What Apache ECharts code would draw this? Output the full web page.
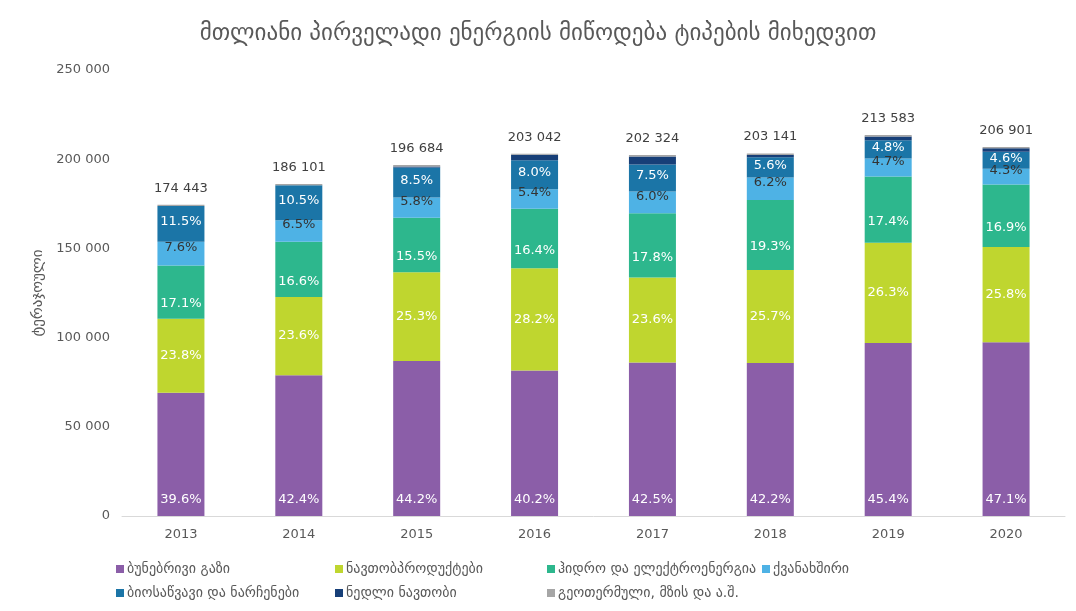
<!DOCTYPE html>
<html>
<head>
<meta charset="utf-8">
<script src="https://cdn.jsdelivr.net/npm/echarts@6/dist/echarts.min.js"></script>
<style>
  html, body { margin: 0; padding: 0; background: #fff; }
  #chart { width: 1076px; height: 611px; }
</style>
</head>
<body>
<div id="chart"></div>
<script>
// წლები და ჯამური მიწოდება (ტერაჯოული)
var years = ['2013', '2014', '2015', '2016', '2017', '2018', '2019', '2020'];
var totals = [174443, 186101, 196684, 203042, 202324, 203141, 213583, 206901];

// წილები, %
var gasPct     = [39.6, 42.4, 44.2, 40.2, 42.5, 42.2, 45.4, 47.1];
var oilProdPct = [23.8, 23.6, 25.3, 28.2, 23.6, 25.7, 26.3, 25.8];
var hydroPct   = [17.1, 16.6, 15.5, 16.4, 17.8, 19.3, 17.4, 16.9];
var coalPct    = [7.6, 6.5, 5.8, 5.4, 6.0, 6.2, 4.7, 4.3];
var bioPct     = [11.5, 10.5, 8.5, 8.0, 7.5, 5.6, 4.8, 4.6];
var crudePct   = [0, 0, 0.3, 1.5, 2.2, 0.6, 1.0, 0.9];
var geoPct     = [0.4, 0.4, 0.4, 0.3, 0.4, 0.4, 0.4, 0.4];

var names = ['ბუნებრივი გაზი', 'ნავთობპროდუქტები', 'ჰიდრო და ელექტროენერგია', 'ქვანახშირი',
             'ბიოსაწვავი და ნარჩენები', 'ნედლი ნავთობი', 'გეოთერმული, მზის და ა.შ.'];
var colors = ['#8b5ea8', '#bfd62f', '#2db78d', '#4eb2e5', '#1b75a7', '#173f78', '#a6a6a6'];

var pcts = [gasPct, oilProdPct, hydroPct, coalPct, bioPct, crudePct, geoPct];

function spaced(n) {
    return String(Math.round(n)).replace(/\B(?=(\d{3})+(?!\d))/g, ' ');
}

var fontFam = '"DejaVu Sans", "Noto Sans", sans-serif';
var labelFont = '"DejaVu Sans", sans-serif';

// label placement per series
var labelCfg = [
    {show: true, position: 'insideBottom', distance: 10, color: '#fff'},
    {show: true, position: 'inside', color: '#fff'},
    {show: true, position: 'inside', offset: [0, 12], color: '#fff'},
    {show: true, position: 'inside', offset: [0, -6], color: '#333'},
    {show: true, position: 'inside', offset: [0, -2], color: '#fff'},
    {show: false},
    {show: false}
];

var series = names.map(function (nm, i) {
    var lbl = labelCfg[i];
    lbl.fontSize = 13;
    lbl.fontFamily = labelFont;
    lbl.formatter = function (p) { return pcts[i][p.dataIndex].toFixed(1) + '%'; };
    return {
        name: nm,
        type: 'bar',
        stack: 'total',
        barWidth: 47,
        itemStyle: {color: colors[i]},
        label: lbl,
        data: totals.map(function (t, k) { return t * pcts[i][k] / 100; })
    };
});

// totals above bars
series.push({
    name: 'total',
    type: 'bar',
    stack: 'total',
    barWidth: 47,
    data: totals.map(function () { return 0; }),
    itemStyle: {color: 'transparent'},
    label: {
        show: true,
        position: 'top',
        distance: 10,
        fontSize: 13,
        fontFamily: labelFont,
        color: '#404040',
        formatter: function (p) { return spaced(totals[p.dataIndex]); }
    },
    tooltip: {show: false}
});

var legendPos = [
    [116, 562], [335, 562], [547, 562], [762, 562],
    [116, 586], [335, 586], [547, 586]
];
var legends = names.map(function (nm, i) {
    return {
        data: [nm],
        left: legendPos[i][0],
        top: legendPos[i][1],
        icon: 'rect',
        itemWidth: 8,
        itemHeight: 8,
        itemGap: 4,
        padding: 0,
        textStyle: {fontSize: 14, color: '#595959', fontFamily: fontFam, padding: [0, 0, 0, -2]}
    };
});

var chart = echarts.init(document.getElementById('chart'));
chart.setOption({
    animation: false,
    backgroundColor: '#fff',
    title: {
        text: 'მთლიანი პირველადი ენერგიის მიწოდება ტიპების მიხედვით',
        left: 'center',
        top: 18,
        textStyle: {fontSize: 23, fontWeight: 'normal', color: '#595959', fontFamily: fontFam}
    },
    legend: legends,
    grid: {left: 122, right: 11, top: 70, bottom: 95},
    xAxis: {
        type: 'category',
        data: years,
        axisLine: {lineStyle: {color: '#d9d9d9'}},
        axisTick: {show: false},
        axisLabel: {color: '#595959', fontSize: 13, fontFamily: labelFont, margin: 12}
    },
    yAxis: {
        type: 'value',
        min: 0,
        max: 250000,
        interval: 50000,
        name: 'ტერაჯოული',
        nameLocation: 'middle',
        nameGap: 76,
        nameTextStyle: {fontSize: 15, color: '#595959', fontFamily: fontFam},
        splitLine: {show: false},
        axisLine: {show: false},
        axisTick: {show: false},
        axisLabel: {
            color: '#595959', fontSize: 13, fontFamily: labelFont, margin: 12,
            formatter: function (v) { return spaced(v); }
        }
    },
    series: series
});
</script>
</body>
</html>
